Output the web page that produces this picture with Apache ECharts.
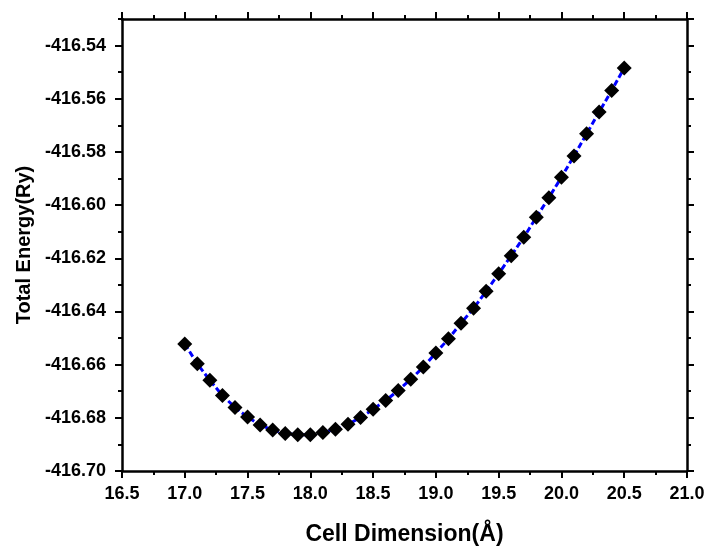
<!DOCTYPE html>
<html>
<head>
<meta charset="utf-8">
<script src="https://cdn.jsdelivr.net/npm/echarts@6/dist/echarts.min.js"></script>
<style>html,body{margin:0;padding:0;background:#fff;}#c{width:710px;height:551px;}</style>
</head>
<body>
<div id="c"></div>
<script>
const cellDim = [17.0,17.1,17.2,17.3,17.4,17.5,17.6,17.7,17.8,17.9,18.0,18.1,18.2,18.3,18.4,18.5,18.6,18.7,18.8,18.9,19.0,19.1,19.2,19.3,19.4,19.5,19.6,19.7,19.8,19.9,20.0,20.1,20.2,20.3,20.4,20.5];
const energy = [-416.6522,-416.6597,-416.6659,-416.6716,-416.6761,-416.6797,-416.6827,-416.6846,-416.6859,-416.6864,-416.6864,-416.6855,-416.6843,-416.6824,-416.6799,-416.6768,-416.6735,-416.6697,-416.6655,-416.6609,-416.6556,-416.6503,-416.6444,-416.6388,-416.6324,-416.6258,-416.6190,-416.6121,-416.6046,-416.5972,-416.5895,-416.5815,-416.5732,-416.5650,-416.5569,-416.5484];
const xMin = 16.5, xMax = 21.0, xStep = 0.5;
const yMin = -416.70, yMax = -416.53, yStep = 0.02, yMinorStep = 0.01;

const FONT = 'Arial, "Liberation Sans", sans-serif';
const lineStyle = {color:'#000', width:2.5};
const chart = echarts.init(document.getElementById('c'));
function xa(pos, labels){
  return {type:'value', position:pos, min:xMin, max:xMax, interval:xStep,
    axisLine:{show:true, onZero:false, lineStyle:lineStyle},
    axisTick:{show:true, inside:false, length:7, lineStyle:{color:'#000', width:2}},
    minorTick:{show:true, splitNumber:2, length:4, lineStyle:{color:'#000', width:2}},
    splitLine:{show:false}, minorSplitLine:{show:false},
    axisLabel:{show:labels, margin:14, color:'#000', fontFamily:FONT, fontWeight:'bold', fontSize:18,
      formatter:v=>v.toFixed(1)},
    name: labels ? 'Cell Dimension(Å)' : '', nameLocation:'middle', nameGap:52,
    nameTextStyle:{color:'#000', fontFamily:FONT, fontWeight:'bold', fontSize:23}
  };
}
function ya(pos, labels, minor){
  return {type:'value', position:pos, min:yMin, max:yMax, interval: minor? yMinorStep : yStep,
    axisLine:{show:!minor, onZero:false, lineStyle:lineStyle},
    axisTick:{show:true, inside:false, length: minor?4:7, lineStyle:{color:'#000', width:2}},
    splitLine:{show:false},
    axisLabel:{show:labels && !minor, showMaxLabel:false, margin:16, color:'#000', fontFamily:FONT, fontWeight:'bold', fontSize:18,
      formatter:v=>v.toFixed(2)},
    name: (labels && !minor) ? 'Total Energy(Ry)' : '', nameLocation:'middle', nameGap:86, nameRotate:90,
    nameTextStyle:{color:'#000', fontFamily:FONT, fontWeight:'bold', fontSize:20}
  };
}
chart.setOption({
  backgroundColor:'#fff',
  animation:false,
  grid:{left:122, right:23, top:19, bottom:78, containLabel:false},
  xAxis:[xa('bottom', true), xa('top', false)],
  yAxis:[ya('left', true, false), ya('right', false, false), ya('left', false, true), ya('right', false, true)],
  series:[{
    type:'line', xAxisIndex:0, yAxisIndex:0,
    data: cellDim.map((x,i)=>[x, energy[i]]),
    symbol:'diamond', symbolSize:15,
    itemStyle:{color:'#000'},
    lineStyle:{color:'#0000ff', width:3, type:[6,3]},
    z:3
  }]
});
</script>
</body>
</html>
